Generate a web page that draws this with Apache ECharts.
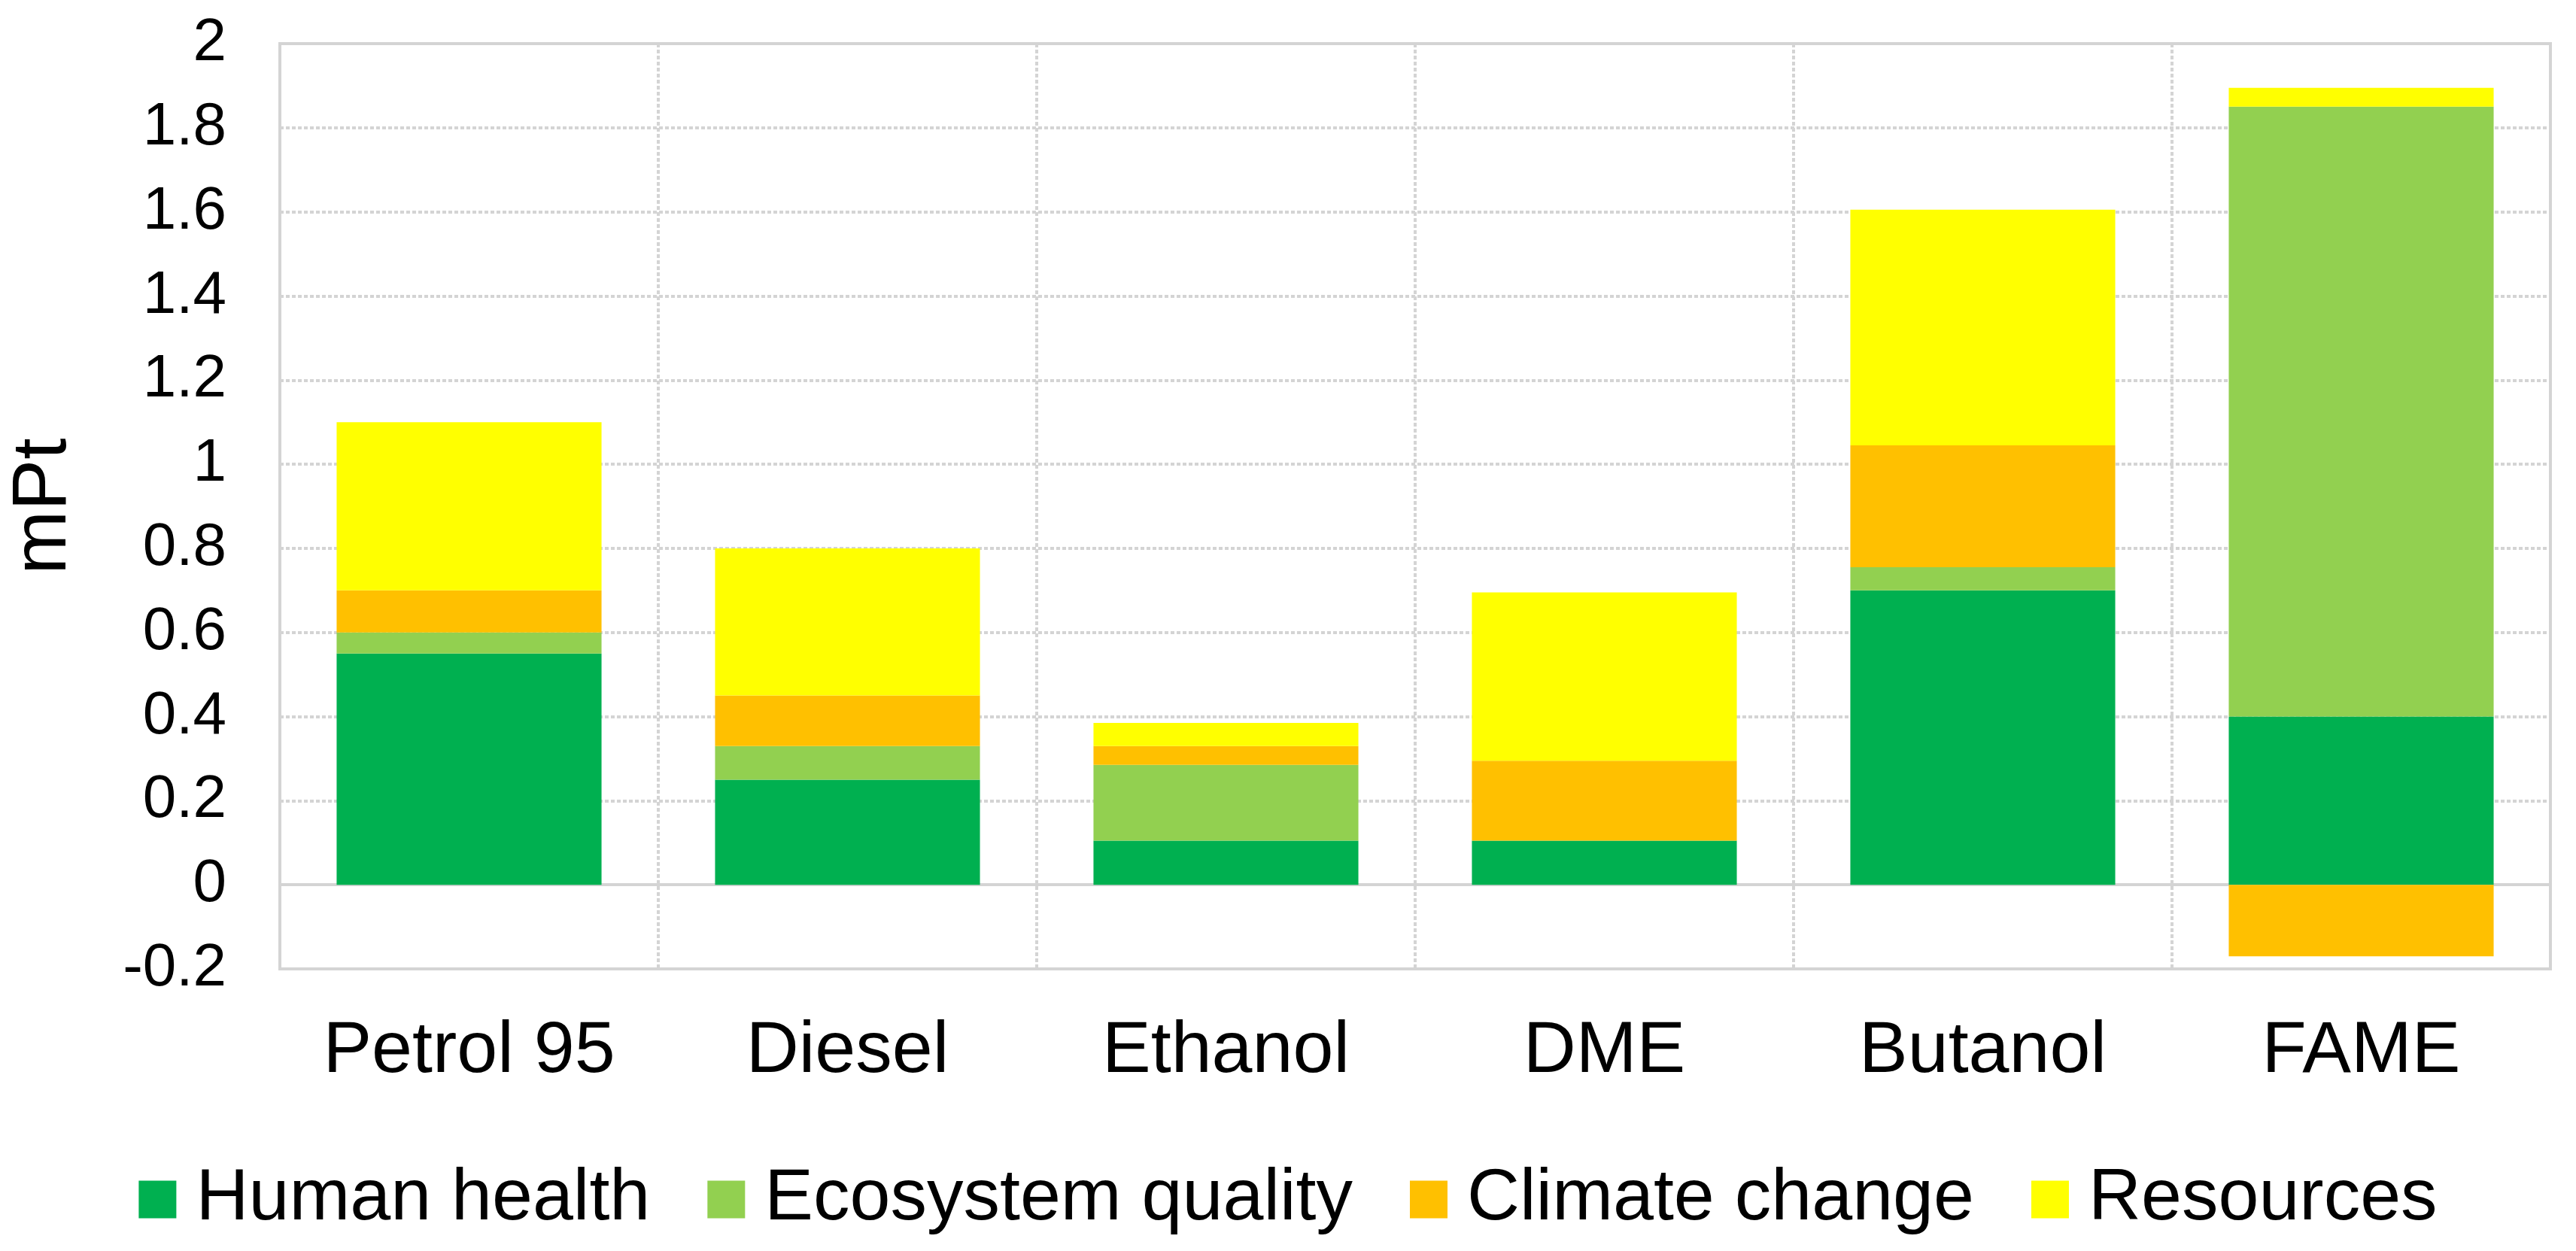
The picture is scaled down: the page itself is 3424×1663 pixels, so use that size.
<!DOCTYPE html>
<html>
<head>
<meta charset="utf-8">
<script src="https://cdn.jsdelivr.net/npm/echarts@6/dist/echarts.min.js"></script>
<style>
  html, body { margin: 0; padding: 0; background: #fff; }
  #chart { width: 3424px; height: 1663px; }
</style>
</head>
<body>
<div id="chart"></div>
<script>
// fuels on the x axis
var fuels = ['Petrol 95', 'Diesel', 'Ethanol', 'DME', 'Butanol', 'FAME'];

// impact per category, mPt
var humanHealth      = [0.55, 0.25, 0.105, 0.105, 0.70, 0.40];
var ecosystemQuality = [0.05, 0.08, 0.18, 0, 0.055, 1.45];
var climateChange    = [0.10, 0.12, 0.045, 0.19, 0.29, -0.17];
var resources        = [0.40, 0.35, 0.055, 0.40, 0.56, 0.045];

var seriesNames = ['Human health', 'Ecosystem quality', 'Climate change', 'Resources'];
var seriesColors = ['#00B050', '#92D050', '#FFC000', '#FFFF00'];

var font = 'Liberation Sans, Arial, sans-serif';
var gridGray = '#d4d4d4';

var myChart = echarts.init(document.getElementById('chart'));

function barSeries(name, data, color) {
    return {
        name: name,
        type: 'bar',
        stack: 'total',
        barCategoryGap: '30%',
        itemStyle: { color: color },
        data: data
    };
}

var option = {
    backgroundColor: '#fff',
    animation: false,
    grid: {
        left: 359,
        right: 34,
        top: 58,
        bottom: 375,
        show: true,
        borderColor: gridGray,
        borderWidth: 4
    },
    legend: {
        data: seriesNames,
        left: 'center',
        top: 1541,
        icon: 'rect',
        itemWidth: 50,
        itemHeight: 50,
        itemGap: 76,
        textStyle: {
            fontFamily: font,
            fontSize: 97,
            color: '#000',
            padding: [0, 0, 0, 21]
        }
    },
    xAxis: {
        type: 'category',
        data: fuels,
        axisTick: { show: false },
        axisLine: { onZero: true, lineStyle: { color: gridGray, width: 4 } },
        axisLabel: {
            interval: 0,
            fontFamily: font,
            fontSize: 97,
            color: '#000',
            margin: 62
        },
        splitLine: {
            show: true,
            interval: 0,
            lineStyle: { color: gridGray, width: 4, type: [5, 3] }
        }
    },
    yAxis: {
        type: 'value',
        min: -0.2,
        max: 2,
        interval: 0.2,
        name: 'mPt',
        nameLocation: 'middle',
        nameGap: 262,
        nameTextStyle: { fontFamily: font, fontSize: 102, color: '#000' },
        axisLine: { show: false },
        axisTick: { show: false },
        axisLabel: {
            fontFamily: font,
            fontSize: 80,
            color: '#000',
            margin: 71,
            formatter: function (v) { return String(+v.toFixed(1)); }
        },
        splitLine: {
            lineStyle: { color: gridGray, width: 4, type: [5, 3] }
        }
    },
    series: [
        barSeries(seriesNames[0], humanHealth, seriesColors[0]),
        barSeries(seriesNames[1], ecosystemQuality, seriesColors[1]),
        barSeries(seriesNames[2], climateChange, seriesColors[2]),
        barSeries(seriesNames[3], resources, seriesColors[3])
    ]
};

myChart.setOption(option);
</script>
</body>
</html>
